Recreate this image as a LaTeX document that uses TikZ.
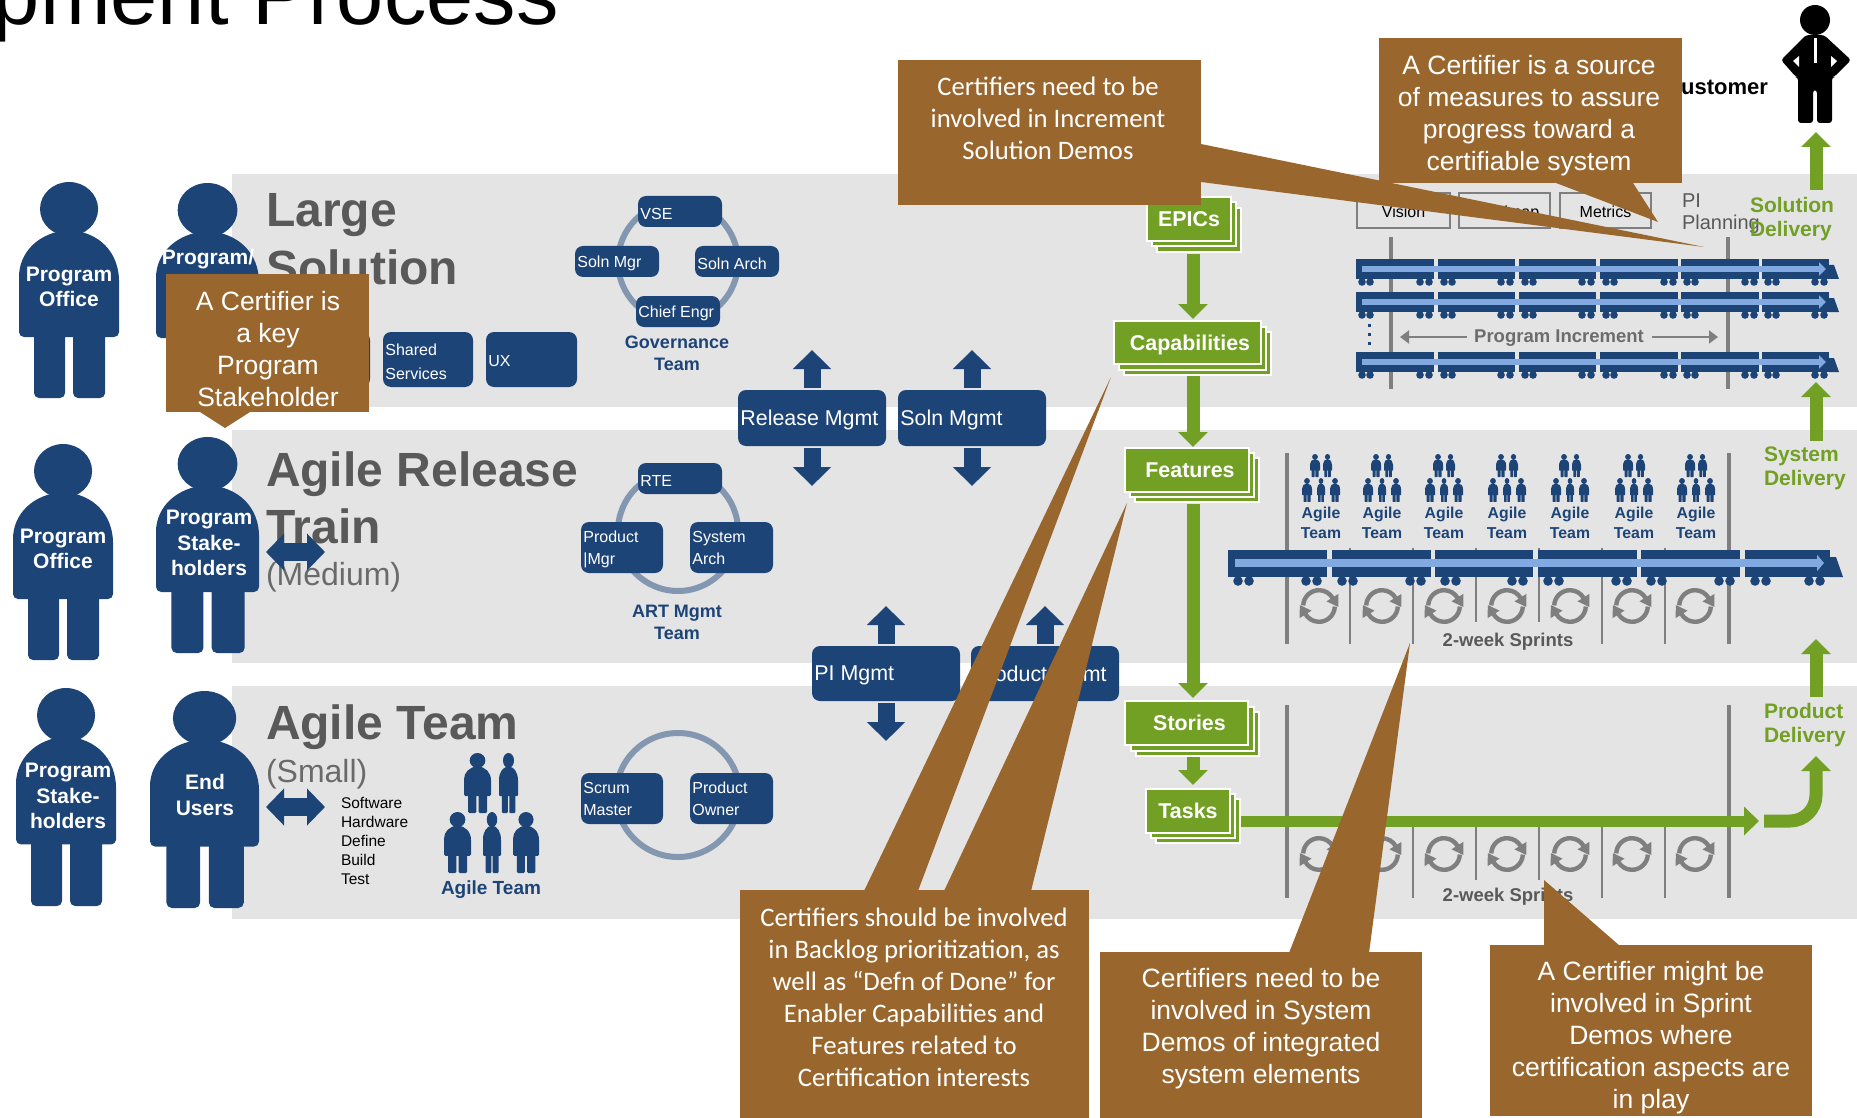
\documentclass[tikz,border=0pt]{standalone}
\usepackage{fontspec}
\setmainfont{Liberation Sans}
\newfontfamily\carlitofont{Carlito}
\usetikzlibrary{arrows.meta,calc}
\definecolor{navy}{HTML}{1D4477}
\definecolor{leaf}{HTML}{72A024}
\definecolor{bark}{HTML}{99672D}
\definecolor{band}{HTML}{E4E4E4}
\definecolor{slate}{HTML}{595959}
\definecolor{midgray}{HTML}{7F7F7F}
\definecolor{ring}{HTML}{8497B0}
\definecolor{pale}{HTML}{82AAE0}
\newcommand\fsz[2]{\fontsize{#1pt}{#2pt}\selectfont}
\tikzset{
  lbl/.style={inner sep=0pt,outer sep=0pt},
  personlabel/.style={lbl,text=white,align=center,font=\fsz{10.5}{12.8}\bfseries},
  bodyfill/.style={fill=navy},
  garrow/.style={draw=leaf,line width=6.5pt,-{Triangle[length=7.5pt,width=14.5pt]}},
  harrow/.style={draw=leaf,line width=5.5pt,-{Triangle[length=7.5pt,width=14pt]}},
  navarrow/.style={draw=navy,line width=8.5pt,-{Triangle[length=9.5pt,width=18.5pt]}},
  bothway/.style={draw=navy,line width=9pt,{Triangle[length=9pt,width=18pt]}-{Triangle[length=9pt,width=18pt]}},
  greenlbl/.style={lbl,text=leaf,align=left,anchor=west,font=\fsz{10.5}{12}\bfseries},
  titlebig/.style={lbl,anchor=base west,text=slate,font=\fsz{24}{24}\bfseries},
  titlesub/.style={lbl,anchor=base west,text=slate!90!white,font=\fsz{16}{16}},
  teamlbl/.style={lbl,text=navy,align=center,font=\fsz{9}{11}\bfseries},
  bigteam/.style={lbl,text=navy,align=center,font=\fsz{9.5}{11}\bfseries},
  smallteam/.style={lbl,text=navy,align=center,font=\fsz{7.9}{10}\bfseries},
  navybox/.style={fill=navy,rounded corners=4pt,inner sep=0pt,outer sep=0pt},
  navtext/.style={lbl,anchor=west,align=left,text=white},
  stackbox/.style={fill=leaf,draw=white,line width=1pt,text=white,inner sep=0pt,outer sep=0pt,text height=7.6pt,text depth=0pt,font=\fsz{10.7}{12}\bfseries},
  calla/.style={lbl,text=white,align=center,font=\fsz{13.25}{16}},
  callb/.style={lbl,text=white,align=center,font=\carlitofont\fsz{13.35}{16}},
  vbar/.style={draw=midgray,line width=2pt},
  thinbar/.style={draw=midgray,line width=1pt},
  sprintarc/.style={draw=midgray,line width=2.2pt},
  planbox/.style={draw=midgray,line width=1pt,fill=band,inner sep=0pt,outer sep=0pt,text height=7.5pt,text depth=0pt,font=\fsz{8}{10}},
}
% x y w h : a standing figure
\newcommand\stickfig[4]{%
  \begin{scope}[shift={(#1,#2)},x={#3*0.005pt},y={-#4*0.5pt/216},bodyfill,rounded corners={#3*0.025pt}]
    \fill (50,27) circle [x radius=29,y radius=27];
    \fill (0,155) -- (0,100) [sharp corners] .. controls (0,70) and (20,50) .. (50,48) .. controls (80,50) and (100,70) .. (100,100) [rounded corners={#3*0.025pt}] -- (100,155) -- cycle;
    \fill (15,150) -- (15,216) -- (46,216) -- (46,150) -- cycle;
    \fill (54,150) -- (54,216) -- (86,216) -- (86,150) -- cycle;
  \end{scope}}
% name x1 y1 x2 y2 font text
\newcommand\navnode[7]{%
  \pgfmathsetmacro\bw{(#4-#2)*0.5}\pgfmathsetmacro\bh{(#5-#3)*0.5}%
  \node[navybox,minimum width=\bw pt,minimum height=\bh pt] (#1) at ({(#2+#4)/2},{(#3+#5)/2}) {};
  \node[navtext,font=#6] (#1t) at ([xshift=1.2pt,yshift=-1pt]#1.west) {#7};}
% name x1 y1 x2 y2 x3 y3 text
\newcommand\stacknode[8]{%
  \pgfmathsetmacro\bw{(#4-#2)*0.5}\pgfmathsetmacro\bh{(#5-#3)*0.5}%
  \pgfmathsetmacro\ox{(#6-#4)/2}\pgfmathsetmacro\oy{(#7-#5)/2}%
  \fill[leaf,draw=white,line width=1pt] ({#2+2*\ox},{#3+2*\oy}) rectangle (#6,#7);
  \fill[leaf,draw=white,line width=1pt] ({#2+\ox},{#3+\oy}) rectangle ({#4+\ox},{#5+\oy});
  \node[stackbox,minimum width=\bw pt,minimum height=\bh pt] (#1) at ({(#2+#4)/2},{(#3+#5)/2}) {#8};}
% y : top train row
\newcommand\trainrow[1]{%
  \foreach \a/\b in {1356/1434,1438/1515,1519/1596,1600/1678,1681/1759,1762/1829}{%
    \foreach \w in {\a+6,\a+14,\b-14,\b-5}{\fill[navy] ({\w},#1+23) circle[radius=1.9pt];}
    \fill[navy] (\a,#1) rectangle (\b,#1+20);}
  \fill[navy] (1829,#1+6) -- (1834,#1+6) -- (1839,#1+20) -- (1829,#1+20) -- cycle;
  \coordinate (trs#1) at (1362,#1+10);
  \coordinate (tre#1) at (1826,#1+10);
  \draw[pale,line width=3pt,-{Triangle[length=3.5pt,width=6.5pt]}] (trs#1) -- (tre#1);}
% x y : sprint cycle
\newcommand\sprintloop[2]{%
  \begin{scope}[shift={(#1,#2)}]
    \draw[sprintarc] (178:7.9pt) arc[start angle=178,end angle=30,radius=7.9pt];
    \draw[sprintarc] (-2:7.9pt) arc[start angle=-2,end angle=-150,radius=7.9pt];
    \begin{scope}[rotate=32]
      \fill[midgray] (4.4pt,0pt) -- (11.4pt,0pt) -- (7.9pt,-5.5pt) -- cycle;
    \end{scope}
    \begin{scope}[rotate=-148]
      \fill[midgray] (4.4pt,0pt) -- (11.4pt,0pt) -- (7.9pt,-5.5pt) -- cycle;
    \end{scope}
  \end{scope}}
\begin{document}
\begin{tikzpicture}[x=0.5pt,y=-0.5pt]
\useasboundingbox (0,0) rectangle (1857,1118);
% bands
\fill[band] (232,174) rectangle (1857,407);
\fill[band] (232,430) rectangle (1857,663);
\fill[band] (232,686) rectangle (1857,919);
% page title
\node[lbl,anchor=base west,font=\fsz{42.4}{44}] (pagetitle) at (-7,25) {pment Process};
% figures at left
\stickfig{19}{182}{100}{216}
\node[personlabel] (pa) at (69,287) {Program\\Office};
\stickfig{156}{183}{103}{216}
\node[lbl,text=white,font=\fsz{10.5}{12}\bfseries] (pb) at (208,259) {Program/};
\stickfig{13}{444}{100}{216}
\node[personlabel] (pc) at (63,549) {Program\\Office};
\stickfig{156}{437}{103}{216}
\node[personlabel] (pd) at (209,543) {Program\\Stake-\\holders};
\stickfig{16}{688}{100}{218}
\node[personlabel] (pe) at (68,796) {Program\\Stake-\\holders};
\stickfig{150}{691}{109}{217}
\node[personlabel] (pf) at (205,795) {End\\Users};
% band titles
\node[titlebig] (t1a) at (266,227) {Large};
\node[titlebig] (t1b) at (266,285) {Solution};
\node[titlebig] (t2a) at (266,486) {Agile Release};
\node[titlebig] (t2b) at (266,543) {Train};
\node[titlesub] (t2c) at (266,585) {(Medium)};
\node[titlebig] (t3a) at (266,739) {Agile Team};
\node[titlesub] (t3b) at (266,782) {(Small)};
% two-way arrows
\coordinate (dl1) at (266,552); \coordinate (dr1) at (325,552);
\draw[bothway] (dl1) -- (dr1);
\coordinate (dl2) at (266,807); \coordinate (dr2) at (325,807);
\draw[bothway] (dl2) -- (dr2);
\node[lbl,align=left,anchor=north west,font=\fsz{7.75}{9.5}] (skills) at (341,797.5) {Software\\Hardware\\Define\\Build\\Test};
% agile team group
\stickfig{464}{753}{27}{60}
\stickfig{499}{753}{19}{60}
\stickfig{444}{812}{27}{61}
\stickfig{483}{812}{18}{61}
\stickfig{513}{812}{26}{61}
\node[bigteam] (atl) at (491,890) {Agile Team};
% rings
\draw[ring,line width=3pt] (678,262) circle[radius=30pt];
\draw[ring,line width=3pt] (678,531) circle[radius=30pt];
\draw[ring,line width=3pt] (678,795) circle[radius=31pt];
% role boxes
\navnode{vse}{638}{196}{722}{227}{\fsz{8}{10}}{VSE}
\navnode{smgr}{575}{246}{659}{277}{\fsz{8}{10}}{Soln Mgr}
\navnode{sarch}{695}{246}{779}{277}{\fsz{8}{10}}{Soln Arch}
\navnode{cheng}{636}{296}{720}{327}{\fsz{8}{10}}{Chief Engr}
\node[teamlbl] (govt) at (677,353) {Governance\\Team};
\fill[navy,rounded corners=4pt] (280,332) rectangle (370,387);
\navnode{shsv}{383}{332}{473}{387}{\fsz{8}{11.9}}{Shared\\Services}
\navnode{uxb}{486}{332}{577}{387}{\fsz{8}{10}}{UX}
\navnode{rte}{638}{463}{722}{494}{\fsz{8}{10}}{RTE}
\navnode{pmgr}{581}{522}{663}{573}{\fsz{8}{10.7}}{Product\\|Mgr}
\navnode{sysa}{690}{522}{773}{573}{\fsz{8}{10.7}}{System\\Arch\vphantom{g}}
\node[teamlbl] (artt) at (677,622) {ART Mgmt\\Team};
\navnode{scrm}{581}{773}{663}{824}{\fsz{8}{11}}{Scrum\\Master\vphantom{g}}
\navnode{pown}{690}{773}{773}{824}{\fsz{8}{11}}{Product\\Owner\vphantom{g}}
% management boxes
\navnode{rel}{738}{390}{886}{446}{\fsz{10.7}{12}}{Release Mgmt}
\navnode{slm}{898}{390}{1046}{446}{\fsz{10.7}{12}}{Soln Mgmt}
\navnode{pim}{812}{646}{960}{701}{\fsz{10.7}{12}}{PI Mgmt}
\navnode{prm}{971}{646}{1119}{701}{\fsz{10.7}{12}}{Product Mgmt}
\draw[navarrow] ([yshift=1pt]rel.north) -- ++(0,-38);
\draw[navarrow] ([yshift=-1pt]rel.south) -- ++(0,38);
\draw[navarrow] ([yshift=1pt]slm.north) -- ++(0,-38);
\draw[navarrow] ([yshift=-1pt]slm.south) -- ++(0,38);
\draw[navarrow] ([yshift=1pt]pim.north) -- ++(0,-38);
\draw[navarrow] ([yshift=-1pt]pim.south) -- ++(0,38);
\draw[navarrow] ([yshift=1pt]prm.north) -- ++(0,-38);
\draw[navarrow] ([yshift=-1pt]prm.south) -- ++(0,38);
% top panel
\draw[vbar] (1391,237) -- (1391,389);
\draw[vbar] (1728,237) -- (1728,389);
\node[planbox,minimum width=46.5pt,minimum height=17.5pt] (vis) at (1403.5,210.5) {Vision};
\node[planbox,minimum width=45.5pt,minimum height=17.5pt] (road) at (1504.5,210.5) {Roadmap};
\node[planbox,minimum width=45.5pt,minimum height=17.5pt] (metr) at (1605.5,210.5) {Metrics};
\node[lbl,anchor=north west,align=left,text=slate,font=\fsz{10}{10.7}] (pip) at (1682,194) {PI\\Planning};
\trainrow{259}
\trainrow{292}
\trainrow{352}
\foreach \dy in {325,334,343}{\fill[navy] (1367.5,\dy-1.5) rectangle (1370.5,\dy+1.5);}
\node[lbl,text=midgray!85!black,font=\fsz{9.25}{10}\bfseries] (pinc) at (1559,338.5) {Program Increment};
\coordinate (pil) at (1400,337); \coordinate (pir) at (1718,337);
\coordinate (pile) at (1467,337); \coordinate (pire) at (1652,337);
\draw[midgray,line width=1pt,-{Triangle[length=4.5pt,width=6.5pt]}] (pile) -- (pil);
\draw[midgray,line width=1pt,-{Triangle[length=4.5pt,width=6.5pt]}] (pire) -- (pir);
% middle panel
\draw[vbar] (1287,453) -- (1287,644);
\draw[vbar] (1729,453) -- (1729,644);
\foreach \lx/\le in {1350/644,1413/644,1476/622,1539/622,1602/644,1665/644}{\draw[thinbar] (\lx,548) -- (\lx,\le);}
\foreach \gx [count=\gi] in {1321,1382,1444,1507,1570,1634,1696}{
  \stickfig{\gx-11}{454}{10}{23}
  \stickfig{\gx+2}{454}{9}{23}
  \stickfig{\gx-19}{478}{10}{24}
  \stickfig{\gx-4}{478}{8}{24}
  \stickfig{\gx+9}{478}{10}{24}
  \node[smallteam] (tm\gi) at (\gx,522.5) {Agile\\Team};
}
\foreach \a/\b in {1228/1327,1332/1431,1435/1533,1538/1637,1641/1740,1745/1830}{
  \foreach \w in {\a+10,\a+21,\b-21,\b-10}{\fill[navy] ({\w},581) circle[radius=2.4pt];}
  \fill[navy] (\a,550) rectangle (\b,577);
}
\fill[navy] (1830,557) -- (1836,557) -- (1843,577) -- (1830,577) -- cycle;
\coordinate (mts) at (1235,563); \coordinate (mte) at (1824,563);
\draw[pale,line width=3.6pt,-{Triangle[length=3.5pt,width=8pt]}] (mts) -- (mte);
\foreach \lx in {1319,1382,1444,1507,1570,1632,1695}{\sprintloop{\lx}{606}}
\node[lbl,text=slate,font=\fsz{9.25}{10}\bfseries] (spr1) at (1508,642) {2-week Sprints};
% lower panel
\draw[vbar] (1287,705) -- (1287,898);
\draw[vbar] (1729,705) -- (1729,898);
\foreach \lx/\le in {1350/898,1413/898,1476/880,1539/880,1602/898,1665/898}{\draw[thinbar] (\lx,825) -- (\lx,\le);}
\foreach \lx in {1319,1382,1444,1507,1570,1632,1695}{\sprintloop{\lx}{854}}
\node[lbl,text=slate,font=\fsz{9.25}{10}\bfseries] (spr2) at (1508,897) {2-week Sprints};
% green work items
\stacknode{epics}{1147}{197}{1231}{241}{1241}{252}{EPICs}
\stacknode{caps}{1114}{321}{1261}{364}{1271}{375}{\hspace*{2.5pt}Capabilities}
\stacknode{feat}{1125}{448}{1249}{492}{1259}{502}{\hspace*{3pt}Features}
\stacknode{stor}{1125}{701}{1248}{745}{1259}{756}{\hspace*{3pt}Stories}
\stacknode{task}{1146}{789}{1230}{833}{1240}{843}{Tasks}
\coordinate (gax) at (1193,0);
\draw[garrow] ([yshift=-6.5pt]gax |- epics.south) -- ([yshift=1pt]gax |- caps.north);
\draw[garrow] ([yshift=-6pt]gax |- caps.south) -- ([yshift=0.5pt]gax |- feat.north);
\draw[garrow] ([yshift=-6pt]gax |- feat.south) -- ([yshift=1.5pt]gax |- stor.north);
\draw[garrow] ([yshift=-6pt]gax |- stor.south) -- ([yshift=2pt]gax |- task.north);
\coordinate (tout) at (1241,821); \coordinate (tin) at (1759,821);
\draw[harrow] (tout) -- (tin);
\coordinate (cs) at (1764,821); \coordinate (ce) at (1816,756);
\draw[garrow] (cs) -- (1790,821) arc[start angle=-90,end angle=0,radius=13pt] -- (ce);
\node[greenlbl] (sold) at (1750,219.5) {Solution\\Delivery};
\node[greenlbl] (sysd) at (1764,468) {System\\Delivery};
\node[greenlbl] (prod) at (1764,725.5) {Product\\Delivery};
\coordinate (aa) at (1816,697); \coordinate (ab) at (1816,639);
\draw[garrow] (aa) -- (ab);
\coordinate (ba) at (1816,441); \coordinate (bb) at (1816,382);
\draw[garrow] (ba) -- (bb);
\coordinate (ca) at (1816,190); \coordinate (cb) at (1816,132);
\draw[garrow] (ca) -- (cb);
% customer
\node[lbl,anchor=base east,font=\fsz{11}{12}\bfseries] (cust) at (1768,95) {Customer};
\fill (1815,20) circle[x radius=15,y radius=15];
\fill[rounded corners=1.5pt] (1806,35) -- (1824,35) -- (1851,60) -- (1834,77) -- (1832,77) -- (1832,123) -- (1817,123) -- (1817,90) -- (1813,90) -- (1813,123) -- (1798,123) -- (1798,77) -- (1796,77) -- (1781,60) -- cycle;
\fill[white] (1793,61) -- (1799,56) -- (1799,67) -- cycle;
\fill[white] (1837,61) -- (1831,56) -- (1831,67) -- cycle;
\fill[white] (1813.5,38) rectangle (1816.5,63);
% callouts
\fill[bark] (898,60) rectangle (1201,205);
\fill[bark] (1201,144) -- (1704,247) -- (1201,182) -- cycle;
\fill[bark] (1379,38) rectangle (1682,183);
\fill[bark] (1556,183) -- (1658,222) -- (1633,183) -- cycle;
\fill[bark] (166,274) rectangle (369,412);
\fill[bark] (200,412) -- (225,428) -- (250,412) -- cycle;
\fill[bark] (740,890) rectangle (1089,1118);
\fill[bark] (864,891) -- (1111,377) -- (918,891) -- cycle;
\fill[bark] (944,891) -- (1127,503) -- (1031,891) -- cycle;
\fill[bark] (1100,952) rectangle (1422,1118);
\fill[bark] (1289,953) -- (1410,643) -- (1369,953) -- cycle;
\fill[bark] (1490,945) rectangle (1812,1116);
\fill[bark] (1544,946) -- (1544,880) -- (1620,946) -- cycle;
\node[callb] (c1) at (1048,118) {Certifiers need to be\\involved in Increment\\Solution Demos};
\node[calla] (c2) at (1529,115.5) {A Certifier is a source\\of measures to assure\\progress toward a\\certifiable system};
\node[calla] (c3) at (268,349) {A Certifier is\\a key\\Program\\Stakeholder};
\node[callb] (c4) at (914,997) {Certifiers should be involved\\in Backlog prioritization, as\\well as “Defn of Done” for\\Enabler Capabilities and\\Features related to\\Certification interests};
\node[calla] (c5) at (1261,1028.5) {Certifiers need to be\\involved in System\\Demos of integrated\\system elements};
\node[calla] (c6) at (1651,1037.5) {A Certifier might be\\involved in Sprint\\Demos where\\certification aspects are\\in play};
\end{tikzpicture}
\end{document}
